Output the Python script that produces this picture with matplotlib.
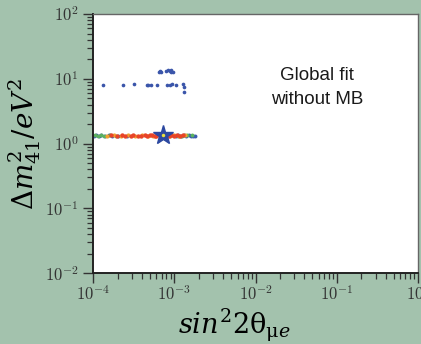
import numpy as np
import matplotlib.pyplot as plt
from matplotlib.ticker import FuncFormatter

# band of fit points around dm2 ~ 1.3 eV^2
blue_x = [1.02e-4, 1.1e-4, 1.18e-4, 1.27e-4, 1.4e-4, 1.55e-4, 1.7e-4, 2.0e-4, 2.6e-4,
          9.5e-4, 1.05e-3, 1.12e-3, 1.2e-3, 1.3e-3, 1.4e-3, 1.5e-3, 1.6e-3, 1.7e-3, 1.8e-3]
blue_y = [1.32, 1.36, 1.30, 1.34, 1.31, 1.35, 1.33, 1.30, 1.33,
          1.34, 1.30, 1.36, 1.32, 1.35, 1.31, 1.34, 1.32, 1.33, 1.31]
green_x = [1.05e-4, 1.15e-4, 1.25e-4, 1.35e-4, 1.6e-4, 1.9e-4, 1.1e-3, 1.25e-3, 1.45e-3, 1.65e-3]
green_y = [1.35, 1.32, 1.37, 1.33, 1.36, 1.32, 1.33, 1.31, 1.35, 1.34]
orange_x = [1.5e-4, 1.8e-4, 2.2e-4, 2.7e-4, 3.3e-4, 4.0e-4, 4.8e-4, 5.5e-4, 6.2e-4,
            8.8e-4, 1.0e-3, 1.15e-3, 1.35e-3]
orange_y = [1.32, 1.37, 1.30, 1.35, 1.31, 1.36, 1.33, 1.30, 1.36, 1.31, 1.36, 1.30, 1.34]
red_x = [1.65e-4, 1.95e-4, 2.3e-4, 2.5e-4, 2.9e-4, 3.1e-4, 3.6e-4, 3.9e-4, 4.3e-4, 4.6e-4,
         5.0e-4, 5.3e-4, 5.8e-4, 6.0e-4, 6.6e-4, 7.0e-4, 7.5e-4, 8.0e-4, 8.5e-4, 9.2e-4,
         9.8e-4, 1.08e-3, 1.18e-3, 1.28e-3]
red_y = [1.34, 1.31, 1.35, 1.30, 1.33, 1.37, 1.32, 1.29, 1.35, 1.31,
         1.34, 1.37, 1.32, 1.29, 1.34, 1.31, 1.36, 1.33, 1.29, 1.35,
         1.32, 1.34, 1.31, 1.36]

# scattered points at higher dm2
high_x = [1.33e-4, 2.36e-4, 3.2e-4, 4.6e-4, 4.8e-4, 5.2e-4, 6.2e-4, 8.2e-4, 8.8e-4,
          9.5e-4, 1.04e-3, 1.27e-3, 1.32e-3, 1.3e-3,
          6.4e-4, 6.6e-4, 6.8e-4, 8.0e-4, 8.4e-4, 8.8e-4, 9.2e-4, 9.6e-4, 9.0e-4]
high_y = [8.1, 8.1, 8.2, 8.0, 8.1, 8.0, 8.0, 8.1, 8.0,
          8.2, 7.9, 8.3, 7.6, 6.3,
          12.6, 13.0, 12.6, 13.0, 13.5, 13.3, 13.6, 12.7, 12.6]

best_x = 7.2e-4
best_y = 1.36

bg = '#a3c2ad'
tick_color = '#333333'

plt.rcParams['mathtext.fontset'] = 'cm'

fig = plt.figure(figsize=(4.21, 3.44), dpi=100, facecolor=bg)
ax = fig.add_axes([0.221, 0.206, 0.772, 0.753])

ax.scatter(blue_x, blue_y, s=8, color='#3a5bb0', lw=0, zorder=2)
ax.scatter(green_x, green_y, s=8, color='#5bb060', lw=0, zorder=2)
ax.scatter(orange_x, orange_y, s=9, color='#f0a030', lw=0, zorder=3)
ax.scatter(red_x, red_y, s=10, color='#e84428', lw=0, zorder=4)
ax.scatter(high_x, high_y, s=7, color='#3a55aa', lw=0, zorder=2)
ax.plot(best_x, best_y, marker='*', ms=15, color='#2c48a0', zorder=5)
ax.plot(best_x, best_y, marker='o', ms=2.5, color='#e8e040', mew=0, zorder=6)

ax.set_xscale('log')
ax.set_yscale('log')
ax.set_xlim(1e-4, 1)
ax.set_ylim(1e-2, 1e2)

sci = FuncFormatter(lambda v, p: r'$10^{%d}$' % int(round(np.log10(v))))
ax.xaxis.set_major_formatter(sci)
ax.yaxis.set_major_formatter(sci)

ax.tick_params(which='both', direction='out', colors=tick_color, labelsize=12)
ax.tick_params(which='major', length=7, width=1)
ax.tick_params(which='minor', length=4, width=0.9)
ax.tick_params(axis='x', pad=2)

for s in ['left', 'bottom']:
    ax.spines[s].set_color('#222222')
    ax.spines[s].set_linewidth(1.4)
for s in ['top', 'right']:
    ax.spines[s].set_color('#666666')
    ax.spines[s].set_linewidth(1.0)

ax.set_ylabel(r'$\Delta m^2_{41}/eV^2$', fontsize=20, math_fontfamily='dejavuserif', labelpad=1)
ax.set_xlabel(r'$sin^2 2\mathrm{θ}_{\mathrm{μ}e}$', fontsize=19.5, math_fontfamily='dejavuserif', labelpad=0)
ax.xaxis.set_label_coords(0.434, -0.128)

ax.text(0.689, 0.718, 'Global fit\nwithout MB', transform=ax.transAxes,
        ha='center', va='center', fontsize=13.5, family='Liberation Sans',
        color='#1a1a1a', linespacing=1.55)

fig.savefig('out.png', dpi=100, facecolor=bg)
